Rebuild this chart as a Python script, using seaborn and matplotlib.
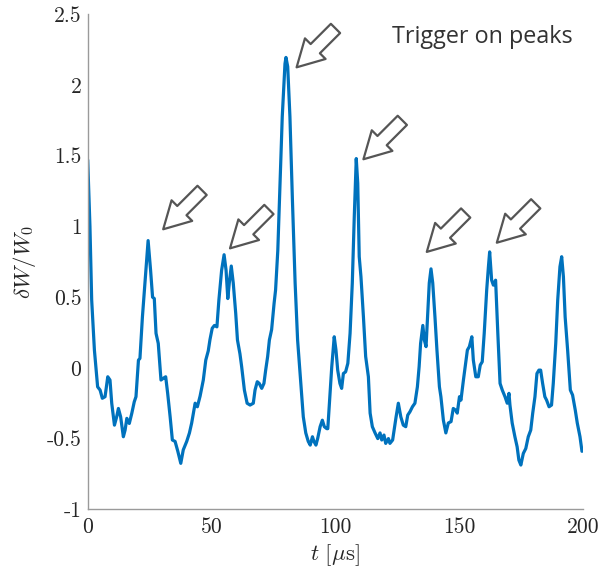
import matplotlib
matplotlib.use("Agg")
import matplotlib.pyplot as plt
import pandas as pd
import seaborn as sns

# Normalised stored-energy fluctuation versus time
t_us = [0.0, 0.9, 1.6, 2.7, 4.0, 5.0, 5.9, 7.0, 8.1, 9.0, 9.7, 10.8, 11.7, 12.4, 13.3,
        14.4, 15.1, 15.8, 16.8, 17.8, 18.8, 19.5, 20.5, 21.1, 22.1, 23.2, 24.4, 25.4,
        26.2, 26.9, 27.6, 28.5, 29.6, 30.5, 31.5, 32.3, 33.3, 34.2, 35.3, 36.4, 37.6,
        38.6, 40.0, 41.1, 42.0, 43.4, 44.3, 45.4, 46.7, 47.7, 48.7, 49.4, 50.3, 51.2,
        52.2, 53.0, 54.1, 55.1, 55.9, 56.6, 57.2, 58.0, 58.8, 59.8, 60.5, 61.5, 62.2,
        63.3, 64.4, 65.6, 66.9, 67.6, 68.5, 69.3, 70.3, 71.2, 71.9, 72.7, 73.4, 74.3,
        75.3, 75.9, 76.8, 77.7, 78.6, 79.7, 80.1, 80.8, 81.7, 82.7, 83.8, 84.8, 86.1,
        87.1, 88.1, 89.1, 89.9, 90.8, 91.4, 92.2, 92.9, 93.9, 94.8, 95.6, 96.6, 97.0,
        97.6, 98.6, 99.6, 100.3, 101.0, 101.9, 102.6, 103.3, 104.2, 105.1, 106.0, 106.9,
        107.7, 108.5, 109.1, 109.7, 110.4, 111.4, 112.3, 113.4, 114.1, 115.0, 116.1,
        117.2, 118.1, 118.8, 119.7, 120.4, 121.5, 122.1, 123.2, 124.6, 125.5, 126.5,
        127.5, 128.5, 129.3, 130.2, 131.2, 132.2, 133.2, 133.9, 134.5, 135.4, 136.0,
        136.7, 137.4, 138.0, 138.7, 139.4, 140.3, 141.1, 142.1, 142.7, 143.7, 144.7,
        145.7, 146.8, 147.7, 148.7, 149.3, 150.2, 150.8, 151.8, 152.7, 153.4, 154.2,
        155.2, 155.8, 156.8, 157.8, 158.6, 159.4, 160.2, 161.2, 161.9, 162.4, 163.2,
        163.9, 164.8, 165.7, 166.6, 167.5, 168.6, 169.5, 170.2, 170.6, 171.5, 172.6,
        173.5, 174.2, 175.0, 176.0, 177.0, 178.0, 179.0, 179.8, 180.7, 181.5, 182.3,
        183.0, 183.8, 184.7, 185.4, 186.4, 187.4, 188.1, 189.1, 189.9, 190.8, 191.5,
        192.2, 192.9, 193.9, 195.0, 195.9, 197.0, 197.8, 198.9, 199.7]
dW_W0 = [1.47, 1.00, 0.48, 0.126, -0.134, -0.157, -0.215, -0.204, -0.063, -0.086, -0.25,
         -0.405, -0.346, -0.287, -0.346, -0.487, -0.44, -0.357, -0.393, -0.322, -0.24,
         -0.204, 0.055, 0.067, 0.36, 0.62, 0.90, 0.69, 0.50, 0.49, 0.244, 0.173, -0.086,
         -0.074, -0.063, -0.18, -0.346, -0.51, -0.52, -0.59, -0.675, -0.58, -0.52, -0.46,
         -0.39, -0.25, -0.275, -0.20, -0.086, 0.055, 0.12, 0.20, 0.28, 0.30, 0.29, 0.48,
         0.69, 0.80, 0.69, 0.49, 0.60, 0.72, 0.60, 0.385, 0.197, 0.10, 0.008, -0.157,
         -0.25, -0.263, -0.25, -0.157, -0.098, -0.11, -0.145, -0.11, -0.016, 0.08, 0.197,
         0.27, 0.456, 0.55, 0.83, 1.30, 1.776, 2.15, 2.195, 2.13, 1.776, 1.19, 0.60,
         0.197, -0.11, -0.346, -0.46, -0.52, -0.546, -0.487, -0.52, -0.546, -0.50, -0.416,
         -0.37, -0.416, -0.43, -0.43, -0.27, 0.008, 0.22, 0.126, -0.016, -0.11, -0.145,
         -0.04, -0.028, 0.032, 0.244, 0.60, 1.07, 1.48, 1.305, 0.786, 0.644, 0.36, 0.08,
         -0.063, -0.32, -0.416, -0.46, -0.50, -0.46, -0.51, -0.475, -0.534, -0.50, -0.534,
         -0.51, -0.346, -0.25, -0.346, -0.405, -0.416, -0.334, -0.31, -0.275, -0.25,
         -0.134, 0.008, 0.173, 0.30, 0.197, 0.15, 0.385, 0.60, 0.70, 0.60, 0.36, 0.126,
         -0.134, -0.204, -0.37, -0.46, -0.39, -0.38, -0.287, -0.30, -0.32, -0.204, -0.228,
         -0.086, 0.032, 0.126, 0.15, 0.22, 0.055, -0.063, -0.063, 0.02, 0.043, 0.244,
         0.55, 0.715, 0.82, 0.62, 0.585, 0.62, 0.244, -0.11, -0.157, -0.204, -0.25, -0.18,
         -0.263, -0.39, -0.487, -0.558, -0.652, -0.687, -0.605, -0.57, -0.487, -0.44,
         -0.32, -0.204, -0.04, -0.016, -0.016, -0.11, -0.204, -0.228, -0.275, -0.263,
         -0.11, 0.173, 0.48, 0.715, 0.786, 0.644, 0.36, 0.126, -0.157, -0.192, -0.30,
         -0.39, -0.487, -0.59]

# Tips of the trigger arrows (just above/right of each peak)
arrow_t = [30.5, 57.5, 84.4, 111.4, 137.0, 165.3]
arrow_y = [0.98, 0.845, 2.125, 1.475, 0.82, 0.885]

x_ticks = [0, 50, 100, 150, 200]
x_tick_labels = ["0", "50", "100", "150", "200"]
y_ticks = [-1, -0.5, 0, 0.5, 1, 1.5, 2, 2.5]
y_tick_labels = ["-1", "-0.5", "0", "0.5", "1", "1.5", "2", "2.5"]

sns.set_style("white")
plt.rcParams["mathtext.fontset"] = "cm"
plt.rcParams["font.family"] = ["DejaVu Sans"]

df = pd.DataFrame({"t": t_us, "dW": dW_W0})

fig = plt.figure(figsize=(6.13, 5.76), dpi=100)
ax = fig.add_axes([0.1431, 0.1158, 0.8075, 0.8594])

sns.lineplot(data=df, x="t", y="dW", ax=ax, color="#0072BD", linewidth=2.3,
             sort=False, estimator=None)

ax.set_xlim(0, 200)
ax.set_ylim(-1, 2.5)

spine_col = "#9a9a9a"
for side in ["top", "right"]:
    ax.spines[side].set_visible(False)
for side in ["left", "bottom"]:
    ax.spines[side].set_color(spine_col)
    ax.spines[side].set_linewidth(1.0)

ax.set_xticks(x_ticks)
ax.set_xticklabels(x_tick_labels)
ax.set_yticks(y_ticks)
ax.set_yticklabels(y_tick_labels)
ax.tick_params(axis="both", direction="in", length=3.5, width=0.8, color=spine_col,
               labelcolor="#262626", labelsize=15.5)
ax.tick_params(axis="x", pad=6)
ax.tick_params(axis="y", pad=4.5)
for lab in ax.get_xticklabels() + ax.get_yticklabels():
    lab.set_fontfamily("cmr10")

ax.set_xlabel(r"$t\ [\mu\mathrm{s}]$", fontsize=16.5, color="#262626", labelpad=4)
ax.set_ylabel(r"$\delta W/W_0$", fontsize=16.5, color="#262626", labelpad=6)

for at, ay in zip(arrow_t, arrow_y):
    ax.annotate("", xy=(at, ay), xytext=(28, 28), textcoords="offset points",
                arrowprops=dict(arrowstyle="simple,head_length=0.95,head_width=1.05,tail_width=0.47",
                                mutation_scale=20, fc="white", ec="#555555", lw=1.6,
                                shrinkA=0, shrinkB=0))

ax.text(122.8, 2.297, "Trigger on peaks", fontsize=16.8, color="#333333",
        family="Open Sans", ha="left", va="baseline")

fig.savefig("out.png", dpi=100)
